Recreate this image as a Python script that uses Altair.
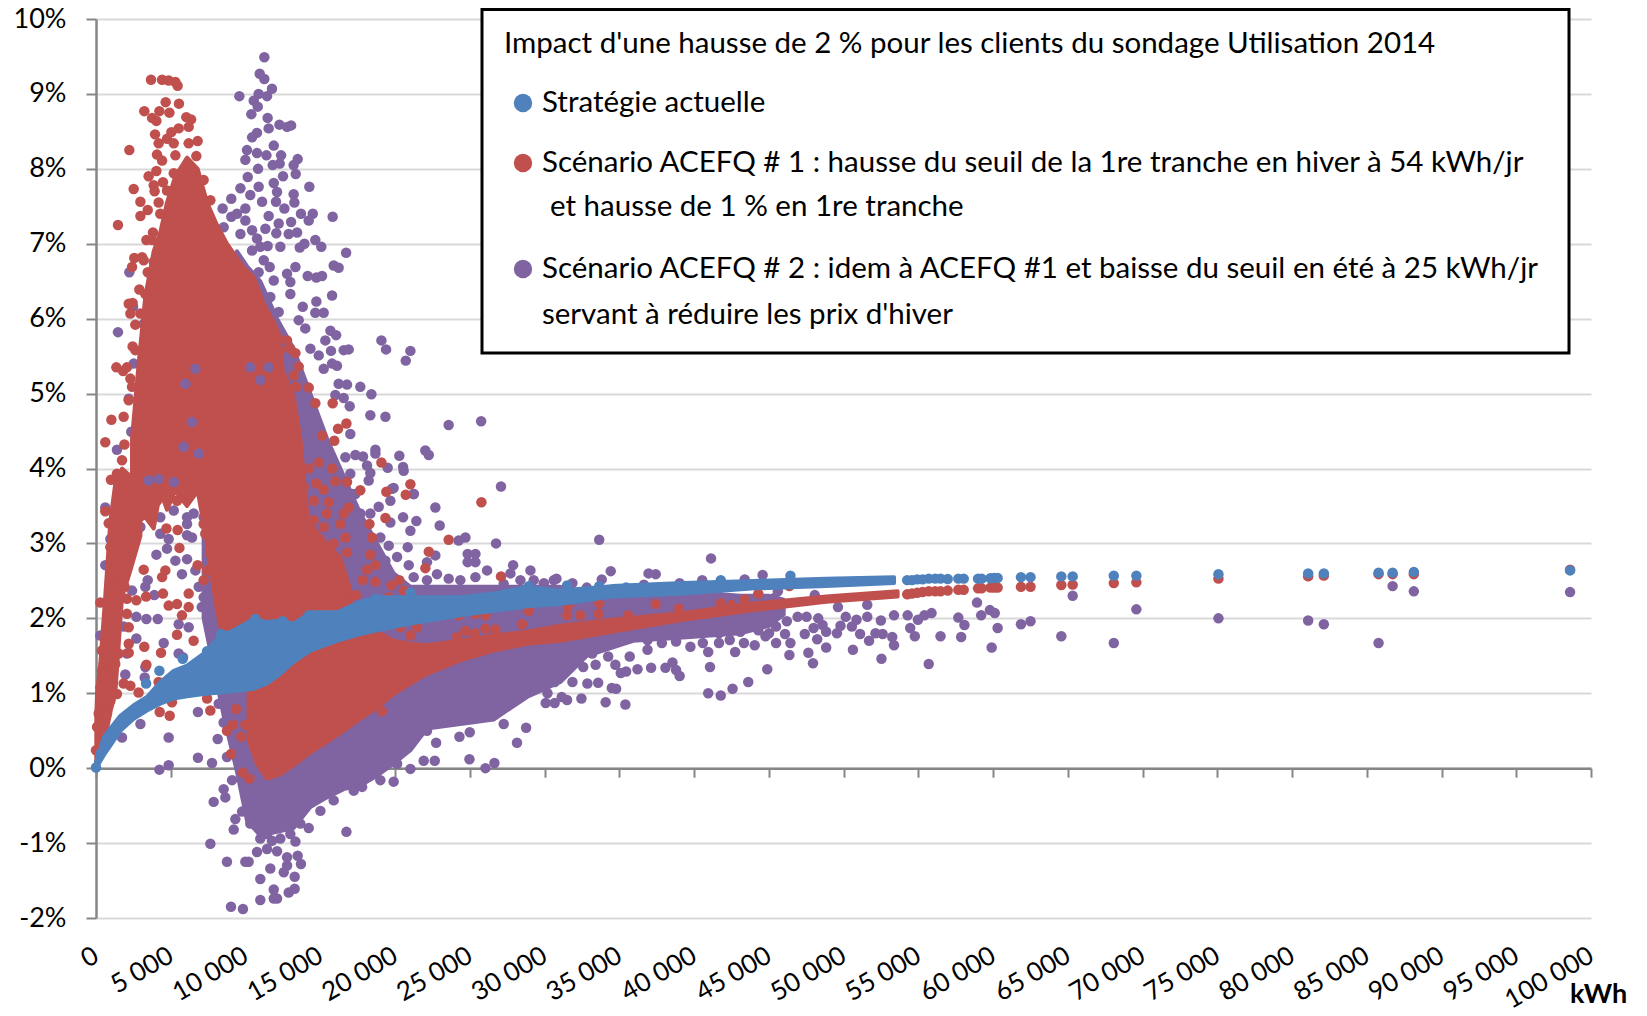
import altair as alt

BLUE = "#4f81bd"
RED = "#c0504d"
PURPLE = "#8064a2"
FONT = "Lato"

x_ticks = list(range(0, 100001, 5000))
y_ticks = list(range(-2, 11))

# dense clouds: (kWh, low %, high %)
purple_core = [(7200,2.0,4.0),(8540,0.7,6.5),(9430,-0.05,6.9),(10100,-0.7,6.7),(10990,-0.9,6.5),(12110,-0.85,6.0),(13220,-0.8,5.6),(14340,-0.52,5.0),(15450,-0.39,4.4),(16570,-0.28,3.9),(17680,-0.23,3.4),(18800,-0.1,3.0),(19910,0.06,2.6),(21030,0.24,2.42),(22140,0.53,2.42),(24370,0.59,2.42),(26600,0.65,2.42),(28830,0.95,2.42),(31060,1.15,2.42),(32830,1.5,2.35),(35930,1.7,2.35),(39760,1.75,2.35),(43100,1.8,2.3),(45020,1.9,2.3),(46000,2.05,2.25)]
red_main = [(2410,3.4,4.4),(2850,3.3,5.4),(3300,3.35,6.3),(3860,3.2,6.9),(4300,3.7,7.15),(4750,3.45,7.55),(5300,3.7,7.9),(6090,3.5,8.15),(6800,3.7,8.0),(7430,3.0,7.55),(8090,2.1,7.25),(8760,1.5,7.0),(9880,1.3,6.68),(10550,1.3,6.55),(11210,1.3,6.2),(11890,1.3,5.95),(12220,1.3,5.8),(12500,1.3,5.3),(13220,1.4,4.95),(13670,1.5,4.4),(14120,1.6,3.4),(14560,1.7,3.2),(15450,1.7,3.0),(16350,1.75,2.8),(16900,1.8,2.45),(17100,1.85,2.3)]
red_arm = [(20,0.0,0.7),(70,0.05,1.0),(290,0.2,1.4),(620,0.4,2.3),(960,0.75,3.3),(1290,1.0,3.8),(1740,2.28,4.0),(2300,2.64,3.9),(2970,3.1,3.9)]
red_band = [(10210,0.37,1.04),(10770,0.06,1.08),(11440,-0.14,1.13),(12330,-0.08,1.30),(13220,0.04,1.48),(14340,0.21,1.62),(15450,0.35,1.70),(16570,0.50,1.75),(17680,0.66,1.79),(18800,0.81,1.82),(19910,0.99,1.70),(21030,1.13,1.66),(22140,1.26,1.64),(24370,1.44,1.70),(26600,1.57,1.77),(28830,1.66,1.82),(31060,1.70,1.90),(34500,1.82,1.98),(39280,1.98,2.07),(44060,2.11,2.20),(48840,2.22,2.29),(53620,2.29,2.36)]
blue_band = [(10,0.02,0.1),(70,0.02,0.1),(510,0.17,0.41),(960,0.30,0.53),(1630,0.50,0.70),(2520,0.66,0.84),(3410,0.77,0.95),(4300,0.86,1.15),(5200,0.93,1.30),(6090,0.96,1.37),(7200,0.99,1.53),(8320,1.01,1.77),(9210,1.03,1.84),(10550,1.06,1.99),(11440,1.13,1.95),(12330,1.26,1.97),(13220,1.42,1.93),(14340,1.57,2.08),(16120,1.70,2.08),(17680,1.79,2.22),(18800,1.84,2.28),(21030,1.93,2.28),(24370,2.04,2.28),(26600,2.10,2.33),(28830,2.16,2.42),(31060,2.19,2.37),(34500,2.29,2.43),(39280,2.33,2.47),(44060,2.40,2.50),(48840,2.43,2.53),(53380,2.47,2.55)]

# individual customers: (kWh, %)
purple_peak = [(11260,9.49),(10950,9.27),(11260,9.20),(11770,9.07),(9590,8.97),(10880,9.00),(11440,8.97),(10550,8.91),(10820,8.83),(10390,8.73),(11480,8.68),(11550,8.54),(12270,8.59),(12780,8.56),(13050,8.58),(10770,8.48),(10440,8.42),(11890,8.31),(10100,8.25),(10770,8.21),(11400,8.18),(12380,8.18),(12290,8.07),(11820,8.05),(13490,8.13),(13220,8.05),(13360,7.93),(9990,8.12),(10840,8.0),(10150,7.89),(12510,7.90),(11890,7.81),(14270,7.76),(9660,7.74),(10880,7.76),(12110,7.69),(13220,7.66),(9050,7.60),(10320,7.65),(13270,7.55),(11110,7.56),(12040,7.56),(8470,7.47),(9990,7.47),(11550,7.37),(12600,7.47),(13710,7.40),(14500,7.40),(14230,7.31),(15830,7.36),(13050,7.29),(12220,7.27),(11330,7.2),(12060,7.14),(12890,7.13),(13450,7.15),(14670,7.05),(15070,6.96),(13940,7.0),(13630,6.95),(16730,6.88),(11480,6.97),(12330,6.96),(10770,7.07),(15900,6.71),(16230,6.68),(11620,6.69),(13340,6.69),(12780,6.6),(10880,6.62),(14160,6.57),(14740,6.55),(15120,6.57),(11890,6.51),(13000,6.49),(15790,6.31),(11660,6.29),(13000,6.33),(14740,6.23),(13830,6.16),(14670,6.08),(15230,6.08),(12220,6.09),(13560,5.98),(14000,5.87),(1470,5.82),(15680,5.84),(16060,5.78),(15340,5.71),(14340,5.6),(14900,5.51),(15720,5.57),(16570,5.58),(16900,5.59),(19090,5.71),(19400,5.59),(21030,5.57),(20720,5.44),(15790,5.4),(15230,5.33),(16120,5.37),(16230,5.13),(16790,5.12),(17680,5.09),(18420,4.99),(16010,4.98),(16570,4.94),(16970,4.83),(18350,4.71),(19360,4.69),(23590,4.58),(25760,4.63),(17010,4.46),(1400,4.25),(18690,4.25),(18690,4.2),(16680,4.15),(17350,4.18),(17860,4.16),(20290,4.17),(22030,4.24),(22260,4.18),(18130,4.04),(18350,3.94),(19510,4.01),(20540,4.02),(20580,3.97),(17010,3.93),(18240,3.84),(19910,3.74),(21250,3.66),(17350,3.66),(2230,6.62),(3860,6.76),(2480,6.16),(3190,5.93),(2520,5.4),(2190,4.93),(2360,4.49),(9050,7.36),(9430,7.40),(9990,7.31),(10440,7.18),(8540,7.22),(10990,6.96),(11220,6.78),(9660,7.13),(10440,6.91)]
purple_low = [(4240,-0.02),(4860,0.04),(4860,0.41),(6820,0.75),(6820,0.14),(7760,0.07),(7650,-1.01),(8760,-1.25),(9030,-1.85),(9830,-1.88),(10990,-1.76),(10990,-1.48),(7870,-0.45),(8650,-0.39),(8540,-0.28),(9100,-0.16),(9320,-0.68),(9210,-0.82),(9770,-0.58),(8140,0.39),(8760,0.15),(8540,0.61),(8210,0.86),(14230,-0.8),(16750,-0.85),(12110,-1.74),(11890,-1.74),(12890,-1.66),(13290,-1.61),(11890,-1.62),(13290,-1.45),(13710,-1.28),(13490,-1.17),(12780,-1.19),(12780,-1.3),(12560,-1.39),(11660,-1.34),(12110,-1.11),(11770,-0.97),(11440,-1.08),(10770,-1.12),(10210,-1.25),(9990,-1.25),(13340,-0.98),(13000,-0.88),(10990,-0.94),(19910,-0.18),(21030,-0.01),(21920,0.10),(22660,0.10),(22750,0.34),(24310,0.42),(25000,0.48),(24980,0.12),(26050,0.0),(26650,0.07),(28160,0.34),(28770,0.54),(27270,0.59),(22140,0.50),(10320,-0.74),(12330,-0.94),(11440,-0.88),(13670,-0.74),(15010,-0.57),(15900,-0.43),(17240,-0.30),(17800,-0.25),(19020,-0.16),(20140,0.06)]
purple_mid = [(27090,3.76),(22700,3.48),(22990,3.24),(24260,3.04),(24710,3.08),(26760,3.0),(20540,3.35),(21430,3.3),(21030,3.17),(20850,2.95),(24860,2.86),(25380,2.86),(24860,2.75),(25380,2.75),(27900,2.71),(29060,2.64),(26160,2.64),(27720,2.6),(22810,2.59),(22140,2.75),(22700,2.84),(20920,2.71),(20140,2.82),(19360,2.77),(19020,3.08),(19580,2.97),(19800,3.73),(19690,3.57),(18910,3.49),(18350,3.4),(17680,3.4),(19690,3.28),(17130,3.66),(21250,3.66),(620,3.48),(960,3.06),(620,2.71),(290,1.77),(3370,1.99),(4130,1.99),(2700,2.02),(2700,1.73),(1850,1.89),(4530,1.67),(4860,3.06),(6090,3.11),(6420,3.08),(4750,2.93),(4040,2.85),(5310,2.77),(6090,2.79),(6650,2.64),(5750,2.59),(3460,2.51),(3900,2.31),(2410,2.37),(3300,2.42),(6870,2.42),(7200,2.28),(5530,1.92),(6200,1.88),(7070,2.15),(5530,1.53),(5820,1.48),(3260,1.21),(3300,1.35),(1960,1.25),(2070,1.53),(2970,0.59),(1740,0.41),(3190,3.71),(3860,3.53),(4530,3.66),(5200,3.44),(5860,3.62),(6530,3.40),(7200,3.57),(3410,3.40),(4300,3.35),(4970,3.75),(6090,3.35),(6980,3.75),(2630,3.57),(4300,3.13),(6090,3.26),(7430,3.66),(2970,3.22),(7200,3.35),(21250,2.55),(22140,2.51),(23590,2.53),(24370,2.51),(25380,2.55),(27270,2.46),(28390,2.51),(29280,2.51),(29950,2.46),(30620,2.51)]
purple_right = [(33660,3.05),(41140,2.80),(34430,2.63),(36960,2.60),(37440,2.59),(33830,2.52),(30800,2.53),(29960,2.47),(40550,2.51),(43390,2.52),(44590,2.58),(42390,2.25),(45370,2.27),(48080,2.31),(51590,2.18),(49630,2.15),(58930,2.21),(55890,2.07),(55410,2.04),(54290,2.04),(53380,2.04),(54980,1.98),(57680,2.01),(59210,2.04),(59790,2.11),(60120,2.07),(58090,1.91),(60310,1.87),(61870,1.92),(62510,1.96),(64570,1.76),(65330,2.30),(56490,1.76),(57870,1.75),(54770,1.76),(54460,1.87),(53380,1.64),(53260,1.75),(59910,1.61),(52540,1.46),(55700,1.39),(52620,1.79),(52140,1.80),(52500,1.97),(51110,1.79),(51710,1.70),(50630,1.58),(50560,1.89),(50150,2.02),(50870,1.98),(51590,2.02),(49560,1.80),(49800,1.90),(48840,1.82),(48240,1.72),(48840,1.61),(47960,1.40),(47650,1.54),(46450,1.67),(46380,1.51),(45490,1.67),(46090,1.79),(47410,1.79),(46930,2.02),(47530,2.02),(48310,2.0),(48600,1.91),(48000,1.87),(46210,1.96),(45490,2.04),(44300,1.84),(44780,1.76),(44060,1.64),(42750,1.55),(40950,1.55),(40590,1.67),(41070,1.35),(44900,1.32),(43630,1.15),(42580,1.06),(41790,0.97),(40950,1.0),(39040,1.23),(38800,1.31),(38560,1.41),(38090,1.34),(37130,1.34),(36220,1.32),(35460,1.29),(35100,1.27),(34740,1.38),(33590,1.14),(34500,1.07),(34790,1.06),(34090,0.88),(35410,0.85),(32470,0.93),(32870,1.13),(32590,1.35),(33420,1.38),(33190,1.53),(34260,1.49),(35700,1.49),(36890,1.58),(31150,0.95),(30680,0.87),(30080,0.87),(31510,0.91),(31870,1.15),(30680,1.15),(31150,1.27),(30200,1.0),(68080,1.67),(69590,2.12),(75080,2.0),(81080,1.97),(82130,1.92),(85790,1.67),(86730,2.43),(88150,2.36),(98600,2.35),(31870,2.47),(32830,2.41),(36650,2.45),(39040,2.47),(41670,2.40),(44300,2.45),(45610,2.36),(36890,1.71),(37850,1.67),(38800,1.69),(39760,1.62),(41670,1.67),(42390,1.71),(43340,1.67),(45020,1.80),(39800,1.80),(43100,1.82),(41670,1.80),(37850,1.82),(45490,1.89),(44300,1.98),(43580,2.02)]
purple_gaps = [(6650,5.33),(6420,4.62),(5860,4.29),(4190,3.86),(3520,3.84),(5200,3.82),(6870,4.2),(5980,5.13),(11550,5.35),(10320,5.35),(10990,5.18)]

red_peak = [(3680,9.19),(4420,9.19),(4860,9.18),(5310,9.16),(5460,9.11),(4660,8.89),(5550,8.87),(3230,8.77),(4240,8.77),(4910,8.75),(3750,8.68),(4040,8.64),(6040,8.69),(6360,8.66),(6200,8.56),(5530,8.54),(5040,8.49),(3950,8.46),(4750,8.4),(6800,8.37),(2230,8.25),(4190,8.34),(5200,8.34),(6200,8.34),(4080,8.19),(4420,8.11),(5310,8.18),(6710,8.17),(4040,7.97),(3520,7.9),(2520,7.73),(3860,7.78),(3920,7.7),(4480,7.82),(2970,7.56),(4190,7.55),(3460,7.45),(2970,7.37),(1470,7.25),(3810,7.15),(3370,7.05),(2560,6.81),(3080,6.82),(2410,6.69),(2190,6.2),(2450,6.21),(2300,6.07),(2630,5.92),(2900,6.39),(3680,6.4),(3460,6.62),(1360,5.35),(1810,5.3),(2300,5.2),(2410,5.09),(1030,4.65),(620,4.35),(1900,4.32),(2450,5.63),(1000,3.85),(15830,4.87),(14670,4.87),(14230,5.08),(13400,5.09),(13560,5.36),(13220,5.24),(12220,5.73),(12780,5.71),(13340,5.54),(12330,5.58),(13000,5.6),(16750,4.6),(16190,4.53),(15120,4.44),(15940,4.37),(19090,4.08),(15790,4.0),(14900,4.08),(14230,4.0),(16010,3.83),(16790,3.82),(14740,3.8),(15230,3.72),(1850,4.69),(2190,4.91),(1740,4.11),(1400,3.93),(2070,5.35),(2630,5.58),(2970,6.07),(3300,6.33),(3190,6.78),(3750,7.05),(4300,7.40),(4750,7.71),(5200,7.94),(7200,7.85),(7650,7.58)]
red_mid = [(620,3.43),(850,3.27),(290,2.21),(3230,1.62),(3370,1.38),(4350,1.54),(5420,1.78),(6530,1.70),(7650,0.77),(7430,0.93),(5080,0.88),(4930,0.70),(4260,0.75),(4190,1.15),(6800,2.71),(5580,2.94),(4710,3.2),(5460,3.18),(4640,2.64),(4420,2.55),(3190,2.65),(1920,2.42),(4480,2.33),(3350,2.29),(2700,2.24),(2070,2.26),(4860,2.17),(5420,2.19),(6200,2.15),(5750,2.04),(6200,2.33),(2190,1.54),(2190,1.66),(1850,1.13),(2300,1.10),(2850,1.01),(7200,2.51),(7870,2.64),(8760,0.50),(9170,0.58),(9370,0.79),(9990,0.58),(9720,0.42),(9030,0.19),(9830,-0.06),(10260,-0.14),(19130,0.76),(25780,3.55),(23590,3.05),(22260,2.89),(22030,2.67),(27090,2.56),(19360,3.34),(18290,3.26),(18460,3.08),(18350,2.85),(18690,2.71),(18130,2.65),(17840,2.51),(18690,2.49),(17390,2.31),(19760,2.44),(20290,2.51),(20580,2.37),(19580,2.28),(19910,2.17),(24150,1.75),(24710,1.83),(25330,1.80),(26050,1.86),(26720,1.85),(28500,1.92),(28950,2.10),(25380,2.06),(26050,2.04),(24260,2.04),(21470,1.88),(20360,1.88),(21030,1.77),(16680,3.08),(16900,3.48),(15570,3.55),(17680,3.71),(19420,3.69),(21030,3.79),(20720,3.65),(16570,3.40),(13220,3.75),(14560,3.57),(15450,3.40),(16350,3.26),(14560,3.31),(13670,3.57),(15230,3.22),(13890,3.75),(15900,3.0),(16790,2.88)]
red_left = [(960,2.95),(1400,2.73),(960,2.51),(1290,2.37),(850,2.19),(960,2.02),(960,1.84),(620,1.66),(400,1.57),(740,1.44),(400,1.30),(740,1.17),(290,1.08),(960,1.08),(290,0.90),(960,0.90),(1400,0.99),(180,0.73),(740,0.73),(70,0.55),(510,0.50),(0,0.24),(290,0.41),(1630,2.73),(2070,2.95),(2520,3.04),(1400,3.04),(2300,3.26),(1400,3.40),(2970,3.40),(2520,3.57),(1630,3.62),(1850,2.51),(2190,1.88),(2070,2.06),(1520,1.53),(960,1.53),(1290,1.39),(850,1.26),(3860,3.66),(4750,3.62),(5420,3.57),(4080,3.57),(7200,3.26),(7650,3.40),(7310,3.13),(7650,2.86),(8320,2.19),(8760,2.15),(8320,2.42),(8090,2.82),(7430,2.64)]
red_right = [(31560,2.16),(31510,2.04),(32400,2.04),(33620,2.06),(33660,2.20),(37440,2.19),(38990,2.13),(41790,2.2),(42510,2.18),(43390,2.25),(44300,2.33),(46380,2.43),(35580,2.04),(54260,2.32),(54580,2.33),(54930,2.34),(55290,2.35),(55700,2.36),(56130,2.36),(56490,2.36),(56970,2.37),(57680,2.38),(58040,2.38),(59000,2.40),(59240,2.40),(59830,2.41),(60070,2.41),(60310,2.41),(61870,2.42),(62510,2.42),(64570,2.445),(65330,2.45),(68080,2.47),(69590,2.48),(75080,2.53),(81080,2.56),(82130,2.57),(85790,2.59),(86730,2.59),(88150,2.59),(98600,2.65)]

blue_tail = [(0,0.01),(290,0.19),(620,0.32),(1180,0.5),(1850,0.66),(21030,2.34),(28950,2.43),(18690,2.26),(14230,2.04),(12490,1.96),(10660,1.99),(8380,1.79),(7430,1.56),(5800,1.46),(4240,1.30),(3350,1.13),(31510,2.44),(46450,2.57),(41790,2.51),(35460,2.41),(33660,2.43),(54260,2.51),(54580,2.51),(54930,2.52),(55290,2.52),(55700,2.53),(56130,2.53),(56490,2.53),(56970,2.525),(57680,2.53),(58040,2.53),(59000,2.53),(59240,2.53),(59830,2.535),(60070,2.54),(60310,2.54),(61870,2.55),(62510,2.55),(64570,2.56),(65330,2.56),(68080,2.57),(69590,2.57),(75080,2.59),(81080,2.60),(82130,2.60),(85790,2.61),(86730,2.61),(88150,2.62),(98600,2.64)]

legend_title = "Impact d'une hausse de 2 % pour les clients du sondage Utilisation 2014"
legend_blue = "Stratégie actuelle"
legend_red_1 = "Scénario ACEFQ # 1 : hausse du seuil de la 1re tranche en hiver à 54 kWh/jr"
legend_red_2 = "et hausse de 1 % en 1re tranche"
legend_purple_1 = "Scénario ACEFQ # 2 : idem à ACEFQ #1 et baisse du seuil en été à 25 kWh/jr"
legend_purple_2 = "servant à réduire les prix d'hiver"

x_scale = alt.Scale(domain=[0, 100000], nice=False, zero=False)
y_scale = alt.Scale(domain=[-2, 10], nice=False, zero=False)
X = alt.X(
    "k:Q", scale=x_scale, title=None,
    axis=alt.Axis(
        values=x_ticks, offset=-149.8, tickSize=9, tickWidth=2, tickColor="#868686",
        domainColor="#868686", domainWidth=2.5, grid=False, labelPadding=176, labelAngle=330,
        labelAlign="right", labelBaseline="middle", labelFont=FONT, labelFontSize=26, labelColor="#000000",
        labelOverlap=False, labelFlush=False, labelBound=False,
        labelExpr="replace(format(datum.value, ','), ',', ' ')",
    ),
)
Y = alt.Y(
    "v:Q", scale=y_scale, title=None,
    axis=alt.Axis(
        values=y_ticks, tickSize=10, tickWidth=2, tickColor="#868686", domainColor="#868686", domainWidth=2.5,
        grid=True, gridColor="#d9d9d9", gridWidth=2, labelPadding=20, labelFont=FONT, labelFontSize=27,
        labelColor="#000000", labelExpr="datum.value + '%'", labelOverlap=False,
    ),
)


def dots(rows, color):
    return alt.Chart(alt.Data(values=[{"k": a, "v": b} for a, b in rows])).mark_circle(
        color=color, size=110, opacity=1
    ).encode(x=X, y=Y)


def cloud(rows, color):
    return alt.Chart(alt.Data(values=[{"k": a, "v": b, "h": c} for a, b, c in rows])).mark_area(
        color=color, stroke=color, strokeWidth=4, strokeJoin="round", opacity=1
    ).encode(x=X, y=Y, y2=alt.Y2("h:Q"))


def label(text, x, y, **kw):
    return alt.Chart(alt.Data(values=[{}])).mark_text(
        text=text, align="left", baseline="middle", font=FONT, fontSize=kw.pop("size", 29.5), color="#000000", **kw
    ).encode(x=alt.value(x), y=alt.value(y))


def bullet(color, x, y):
    return alt.Chart(alt.Data(values=[{}])).mark_circle(color=color, size=340, opacity=1).encode(
        x=alt.value(x), y=alt.value(y)
    )


box = alt.Chart(alt.Data(values=[{}])).mark_rect(fill="#ffffff", stroke="#000000", strokeWidth=3).encode(
    x=alt.value(386), x2=alt.value(1473), y=alt.value(-9.5), y2=alt.value(334)
)

chart = alt.layer(
    cloud(purple_core, PURPLE),
    dots(purple_peak, PURPLE), dots(purple_low, PURPLE), dots(purple_mid, PURPLE), dots(purple_right, PURPLE),
    cloud(red_main, RED), cloud(red_arm, RED), cloud(red_band, RED),
    dots(purple_gaps, PURPLE),
    dots(red_peak, RED), dots(red_mid, RED), dots(red_left, RED), dots(red_right, RED),
    cloud(blue_band, BLUE), dots(blue_tail, BLUE),
    box,
    label(legend_title, 408, 25),
    bullet(BLUE, 427, 84), label(legend_blue, 446, 84),
    bullet(RED, 427, 144), label(legend_red_1, 446, 144), label(legend_red_2, 454, 188),
    bullet(PURPLE, 427, 250), label(legend_purple_1, 446, 250), label(legend_purple_2, 446, 296),
    label("kWh", 1474, 976, size=27, fontWeight="bold"),
).properties(
    width=1495, height=899,
    padding={"left": 88, "top": 11, "right": 48, "bottom": 90},
    autosize=alt.AutoSizeParams(type="none"),
).configure_view(stroke=None)

chart.save("out.html", embed_options={"renderer": "svg", "actions": False})
